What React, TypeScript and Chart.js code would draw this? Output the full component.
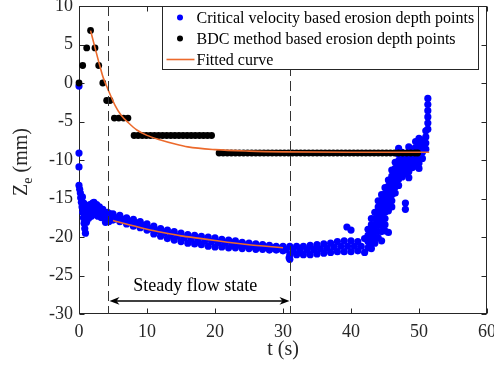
import React, { useEffect, useRef } from "react";
import { Chart, registerables } from "chart.js";

Chart.register(...registerables);

const FONT = "'Liberation Serif', 'Times New Roman', Times, serif";

// ---------- text ----------
const xTitle = "t (s)";
const yTitleMain = "Z";
const yTitleSub = "e";
const yTitleUnit = " (mm)";
const legendLabels = [
  "Critical velocity based erosion depth points",
  "BDC method based erosion depth points",
  "Fitted curve",
];
const steadyLabel = "Steady flow state";

// ---------- axes ----------
const xMin = 0;
const xMax = 60;
const xStep = 10;
const yMin = -30;
const yMax = 10;
const yStep = 5;

// ---------- critical velocity points (blue) ----------
const blueEarlyT = [0, 0, 0, 0, 0.1, 0.2, 0.25, 0.35, 0.45, 0.55, 0.65, 0.75, 0.85, 0.95, 0.5, 0.7, 0.9, 1.0, 1.1, 1.2, 1.4, 1.4, 1.6, 1.8, 1.8, 2.0, 2.2, 2.3, 2.3, 2.6, 2.7, 2.8, 3.0, 3.2, 3.3, 3.5, 3.7, 3.9, 3.9, 4.2, 4.3, 4.4, 4.6, 4.7];
const blueEarlyZ = [-0.4, -9.1, -10.9, -13.3, -13.8, -14.3, -14.9, -15.5, -16.1, -16.8, -17.5, -18.2, -18.9, -19.5, -14.8, -15.6, -16.4, -17.3, -18.1, -16.0, -16.8, -17.6, -15.8, -16.5, -17.3, -15.6, -15.5, -16.3, -17.1, -15.8, -16.6, -17.3, -16.1, -16.8, -17.5, -16.4, -17.0, -17.6, -18.1, -16.8, -17.4, -18.0, -17.0, -17.6];

const bandT = [5, 6, 7, 8, 9, 10, 11, 12, 13, 14, 15, 16, 17, 18, 19, 20, 21, 22, 23, 24, 25, 26, 27, 28, 29, 30, 31, 32, 33, 34, 35, 36, 37, 38, 39, 40, 41, 42];
const bandTop = [-17.0, -17.2, -17.5, -17.7, -18.0, -18.3, -18.6, -18.9, -19.1, -19.3, -19.5, -19.7, -19.8, -19.9, -20.0, -20.1, -20.3, -20.4, -20.5, -20.7, -20.8, -20.9, -21.0, -21.1, -21.2, -21.2, -21.2, -21.2, -21.2, -21.1, -21.0, -20.9, -20.8, -20.6, -20.5, -20.5, -20.6, -20.2];
const bandBot = [-17.8, -18.0, -18.3, -18.6, -18.8, -19.1, -19.6, -19.9, -20.2, -20.4, -20.6, -20.8, -20.9, -21.0, -21.2, -21.3, -21.3, -21.4, -21.4, -21.5, -21.5, -21.6, -21.6, -21.7, -21.7, -21.8, -22.3, -22.3, -22.3, -22.3, -22.2, -22.1, -22.0, -21.9, -21.9, -21.9, -21.8, -22.0];
const bandHalfT = [5.5, 6.5, 7.5, 8.5, 9.5, 10.5, 11.5, 12.5, 13.5, 14.5, 15.5, 16.5, 17.5, 18.5, 19.5, 20.5, 21.5, 22.5, 23.5, 24.5, 25.5, 26.5, 27.5, 28.5, 29.5, 30.5, 31.5, 32.5, 33.5, 34.5, 35.5, 36.5, 37.5, 38.5, 39.5, 40.5, 41.5];
const bandMid = [-17.5, -17.7, -18.0, -18.2, -18.5, -18.9, -19.2, -19.5, -19.7, -19.9, -20.1, -20.3, -20.4, -20.5, -20.6, -20.7, -20.8, -20.9, -21.0, -21.1, -21.2, -21.3, -21.35, -21.45, -21.5, -21.6, -21.75, -21.75, -21.7, -21.65, -21.55, -21.45, -21.3, -21.2, -21.2, -21.2, -21.2];
const blueOutT = [30.9, 31.0, 39.4, 40.0];
const blueOutZ = [-22.7, -22.9, -18.7, -19.1];

const blueRiseT = [42.5, 43.0, 43.5, 44.0, 44.5, 45.0, 45.5, 46.0, 46.5, 47.0, 47.5, 48.0, 48.5, 49.0, 49.5, 50.0, 50.5, 51.0, 51.3];
const blueRiseZ = [
  [-19.0, -19.8, -20.6, -21.4],
  [-17.6, -18.4, -19.2, -20.0, -20.8, -21.5],
  [-16.8, -17.6, -18.4, -19.2, -20.0, -20.8],
  [-15.3, -16.1, -16.9, -17.7, -18.5, -19.3, -20.1],
  [-14.5, -15.3, -16.1, -16.9, -17.7, -18.5, -19.3, -20.5],
  [-13.6, -14.4, -15.2, -16.0, -16.8, -17.6, -18.4, -19.2],
  [-12.6, -13.4, -14.2, -15.0, -15.8, -16.6, -19.4],
  [-11.3, -12.1, -12.9, -13.7, -14.5, -15.3, -16.1],
  [-10.3, -11.1, -11.9, -12.7, -13.5, -14.3],
  [-8.5, -9.3, -10.1, -10.9, -11.7, -12.5, -13.3],
  [-9.0, -9.8, -10.6, -11.4, -12.2],
  [-9.4, -10.2, -11.0, -11.8, -15.6, -16.4],
  [-8.3, -9.1, -9.9, -10.7, -11.5, -12.3],
  [-8.6, -9.4, -10.2, -11.0],
  [-7.6, -8.4, -9.2, -10.0, -10.8],
  [-7.2, -8.0, -8.8, -9.6, -10.4, -11.1],
  [-7.4, -8.2, -9.0, -9.8],
  [-6.2, -7.0, -7.8, -8.6],
  [-2.0, -2.8, -3.6, -4.4, -5.2, -6.0],
];

// ---------- BDC method points (black) ----------
const bdcRiseT = [0, 0.54, 1.13, 1.7, 2.35, 2.9, 3.5];
const bdcRiseZ = [0, 2.27, 4.55, 6.82, 4.55, 2.27, 0];
const bdcStepLevels = [-2.27, -4.55, -6.82, -9.09];
const bdcStepTimes = [
  [4.07, 4.56],
  [5.2, 5.85, 6.55, 7.2],
  [8.1, 8.7, 9.3, 9.9, 10.5, 11.1, 11.7, 12.3, 12.9, 13.5, 14.1, 14.7, 15.3, 15.9, 16.5, 17.1, 17.7, 18.3, 18.9, 19.5],
  [20.6, 21.2, 21.8, 22.4, 23.0, 23.6, 24.2, 24.8, 25.4, 26.0, 26.6, 27.2, 27.8, 28.4, 29.0, 29.6, 30.2, 30.8, 31.4, 32.0, 32.6, 33.2, 33.8, 34.4, 35.0, 35.6, 36.2, 36.8, 37.4, 38.0, 38.6, 39.2, 39.8, 40.4, 41.0, 41.6, 42.2, 42.8, 43.4, 44.0, 44.6, 45.2, 45.8, 46.4, 47.0, 47.6, 48.2, 48.8, 49.4, 49.8],
];

// ---------- fitted curves ----------
const fitBdcT = [1.7, 2.35, 3.1, 3.6, 4.2, 5.3, 6.2, 7.3, 8.5, 10, 12, 14, 16, 20, 25, 30, 40, 51.5];
const fitBdcZ = [6.8, 4.6, 2.1, 0.6, -0.7, -2.9, -4.2, -5.2, -6.1, -6.8, -7.4, -7.9, -8.3, -8.65, -8.85, -8.95, -9.0, -9.0];
const fitVelT = [5, 7.5, 10, 12.5, 15, 17.5, 20, 22.5, 25, 27.5, 30];
const fitVelZ = [-17.85, -18.45, -19.0, -19.45, -19.85, -20.15, -20.45, -20.75, -21.0, -21.2, -21.4];

// ---------- annotation ----------
const steadyStartT = 4.3;
const steadyEndT = 31.0;
const steadyArrowZ = -28.3;
const steadyLabelT = 17.1;
const steadyLabelZ = -27.0;

const BLUE = "#0000FF";
const BLACK = "#000000";
const ORANGE = "#EC6A2C";
const AXIS = "#262626";

const toPts = (ts: number[], zs: number[]) => ts.map((t, i) => ({ x: t, y: zs[i] }));

const bluePoints = [
  ...toPts(blueEarlyT, blueEarlyZ),
  ...toPts(bandT, bandTop),
  ...toPts(bandHalfT, bandMid),
  ...toPts(bandT, bandBot),
  ...toPts(blueOutT, blueOutZ),
  ...blueRiseT.flatMap((t, i) => blueRiseZ[i].map((z) => ({ x: t, y: z }))),
];
const blackPoints = [
  ...toPts(bdcRiseT, bdcRiseZ),
  ...bdcStepLevels.flatMap((lv, i) => bdcStepTimes[i].map((t) => ({ x: t, y: lv }))),
];

const framePlugin = {
  id: "frame",
  beforeDatasetsDraw(chart: any) {
    const { ctx, chartArea, scales } = chart;
    const l = Math.round(chartArea.left) + 0.5;
    const r = Math.round(chartArea.right) - 0.5;
    const t = Math.round(chartArea.top) + 0.5;
    const b = Math.round(chartArea.bottom) - 0.5;
    ctx.save();
    ctx.strokeStyle = AXIS;
    ctx.lineWidth = 1;
    ctx.strokeRect(l, t, r - l, b - t);
    const tl = 5;
    ctx.beginPath();
    scales.x.ticks.forEach((tk: any) => {
      const px = Math.round(scales.x.getPixelForValue(tk.value)) + 0.5;
      ctx.moveTo(px, b);
      ctx.lineTo(px, b - tl);
      ctx.moveTo(px, t);
      ctx.lineTo(px, t + tl);
    });
    scales.y.ticks.forEach((tk: any) => {
      const py = Math.round(scales.y.getPixelForValue(tk.value)) + 0.5;
      ctx.moveTo(l, py);
      ctx.lineTo(l + tl, py);
      ctx.moveTo(r, py);
      ctx.lineTo(r - tl, py);
    });
    ctx.stroke();
    ctx.restore();
  },
};

const annotationPlugin = {
  id: "steady",
  afterDatasetsDraw(chart: any) {
    const { ctx, chartArea, scales } = chart;
    const x = scales.x;
    const y = scales.y;
    const x1 = Math.round(x.getPixelForValue(steadyStartT)) + 0.5;
    const x2 = Math.round(x.getPixelForValue(steadyEndT)) + 0.5;
    ctx.save();
    ctx.strokeStyle = "#333333";
    ctx.lineWidth = 1;
    ctx.setLineDash([10, 5]);
    ctx.beginPath();
    [x1, x2].forEach((px) => {
      ctx.moveTo(px, chartArea.top);
      ctx.lineTo(px, chartArea.bottom);
    });
    ctx.stroke();
    ctx.setLineDash([]);
    // arrow
    const ay = y.getPixelForValue(steadyArrowZ);
    const a1 = x1 + 1;
    const a2 = x2 - 1;
    ctx.strokeStyle = BLACK;
    ctx.fillStyle = BLACK;
    ctx.lineWidth = 1.5;
    ctx.beginPath();
    ctx.moveTo(a1 + 4, ay);
    ctx.lineTo(a2 - 4, ay);
    ctx.stroke();
    const head = (tip: number, dir: number) => {
      ctx.beginPath();
      ctx.moveTo(tip, ay);
      ctx.lineTo(tip + dir * 10, ay - 3.8);
      ctx.lineTo(tip + dir * 7, ay);
      ctx.lineTo(tip + dir * 10, ay + 3.8);
      ctx.closePath();
      ctx.fill();
    };
    head(a1, 1);
    head(a2, -1);
    // label
    ctx.font = `18px ${FONT}`;
    ctx.textAlign = "center";
    ctx.textBaseline = "alphabetic";
    ctx.fillText(steadyLabel, x.getPixelForValue(steadyLabelT), y.getPixelForValue(steadyLabelZ));
    ctx.restore();
  },
};

const legendPlugin = {
  id: "boxLegend",
  afterDraw(chart: any) {
    const { ctx, chartArea } = chart;
    const ds = chart.data.datasets;
    ctx.save();
    ctx.font = `16px ${FONT}`;
    const maxW = Math.max(...legendLabels.map((s) => ctx.measureText(s).width));
    const right = Math.round(chartArea.right) - 8.5;
    const left = Math.round(right - (34 + maxW + 5)) + 0.5;
    const top = Math.round(chartArea.top) + 0.5;
    const h = 63;
    ctx.fillStyle = "#FFFFFF";
    ctx.fillRect(left, top, right - left, h);
    ctx.strokeStyle = AXIS;
    ctx.lineWidth = 1;
    ctx.strokeRect(left, top, right - left, h);
    legendLabels.forEach((label, i) => {
      const cy = top + 11 + i * 21;
      const d = ds[i];
      if (i < 2) {
        ctx.fillStyle = d.backgroundColor;
        ctx.beginPath();
        ctx.arc(left + 17.5, cy, 3, 0, Math.PI * 2);
        ctx.fill();
      } else {
        ctx.strokeStyle = d.borderColor;
        ctx.lineWidth = d.borderWidth;
        ctx.beginPath();
        ctx.moveTo(left + 4, cy);
        ctx.lineTo(left + 32, cy);
        ctx.stroke();
      }
      ctx.fillStyle = BLACK;
      ctx.textAlign = "left";
      ctx.textBaseline = "middle";
      ctx.fillText(label, left + 34, cy + 1);
    });
    ctx.restore();
  },
};

const yTitlePlugin = {
  id: "yTitle",
  afterDraw(chart: any) {
    const { ctx, chartArea } = chart;
    ctx.save();
    const big = `20px ${FONT}`;
    const small = `14px ${FONT}`;
    ctx.font = big;
    const wZ = ctx.measureText(yTitleMain).width;
    const wU = ctx.measureText(yTitleUnit).width;
    ctx.font = small;
    const wS = ctx.measureText(yTitleSub).width;
    const total = wZ + wS + wU;
    const cy = (chartArea.top + chartArea.bottom) / 2 + 2;
    ctx.translate(27, cy);
    ctx.rotate(-Math.PI / 2);
    ctx.fillStyle = AXIS;
    ctx.textBaseline = "alphabetic";
    ctx.textAlign = "left";
    let x0 = -total / 2;
    ctx.font = big;
    ctx.fillText(yTitleMain, x0, 0);
    x0 += wZ;
    ctx.font = small;
    ctx.fillText(yTitleSub, x0, 5);
    x0 += wS;
    ctx.font = big;
    ctx.fillText(yTitleUnit, x0, 0);
    ctx.restore();
  },
};

export default function App() {
  const ref = useRef<HTMLCanvasElement | null>(null);

  useEffect(() => {
    if (!ref.current) return;
    const chart = new Chart(ref.current, {
      type: "scatter",
      data: {
        datasets: [
          {
            label: legendLabels[0],
            data: bluePoints,
            backgroundColor: BLUE,
            borderColor: BLUE,
            borderWidth: 0,
            pointRadius: 3.6,
            pointHoverRadius: 3.6,
            order: 3,
            clip: false,
          },
          {
            label: legendLabels[1],
            data: blackPoints,
            backgroundColor: BLACK,
            borderColor: BLACK,
            borderWidth: 0,
            pointRadius: 3.4,
            pointHoverRadius: 3.4,
            order: 2,
            clip: false,
          },
          {
            label: legendLabels[2],
            data: toPts(fitBdcT, fitBdcZ),
            showLine: true,
            borderColor: ORANGE,
            backgroundColor: ORANGE,
            borderWidth: 1.6,
            pointRadius: 0,
            cubicInterpolationMode: "monotone",
            order: 1,
          },
          {
            label: "",
            data: toPts(fitVelT, fitVelZ),
            showLine: true,
            borderColor: ORANGE,
            backgroundColor: ORANGE,
            borderWidth: 1.6,
            pointRadius: 0,
            cubicInterpolationMode: "monotone",
            order: 1,
          },
        ] as any,
      },
      options: {
        animation: false,
        responsive: false,
        maintainAspectRatio: false,
        events: [],
        layout: { padding: { top: 6, right: 7, left: 0, bottom: 0 } },
        plugins: { legend: { display: false }, tooltip: { enabled: false } },
        scales: {
          x: {
            type: "linear",
            position: "bottom",
            min: xMin,
            max: xMax,
            ticks: {
              stepSize: xStep,
              padding: 7,
              color: AXIS,
              font: { family: FONT, size: 18 },
              maxRotation: 0,
              autoSkip: false,
            },
            grid: { display: false, drawTicks: false, tickLength: 0 },
            border: { display: false },
            title: {
              display: true,
              text: xTitle,
              color: AXIS,
              font: { family: FONT, size: 20 },
              padding: { top: 0, bottom: 3 },
            },
            afterFit: (s: any) => {
              s.height = 51;
              s.paddingLeft = 0;
              s.paddingRight = 0;
            },
          },
          y: {
            type: "linear",
            min: yMin,
            max: yMax,
            ticks: {
              stepSize: yStep,
              padding: 6,
              color: AXIS,
              font: { family: FONT, size: 18 },
              autoSkip: false,
            },
            grid: { display: false, drawTicks: false, tickLength: 0 },
            border: { display: false },
            afterFit: (s: any) => {
              s.width = 79;
              s.paddingTop = 0;
              s.paddingBottom = 0;
            },
          },
        },
      } as any,
      plugins: [framePlugin, annotationPlugin, legendPlugin, yTitlePlugin],
    });
    return () => chart.destroy();
  }, []);

  return (
    <div style={{ position: "fixed", left: 0, top: 0, width: 494, height: 365, background: "#fff" }}>
      <canvas ref={ref} width={494} height={365} style={{ display: "block" }} />
    </div>
  );
}
